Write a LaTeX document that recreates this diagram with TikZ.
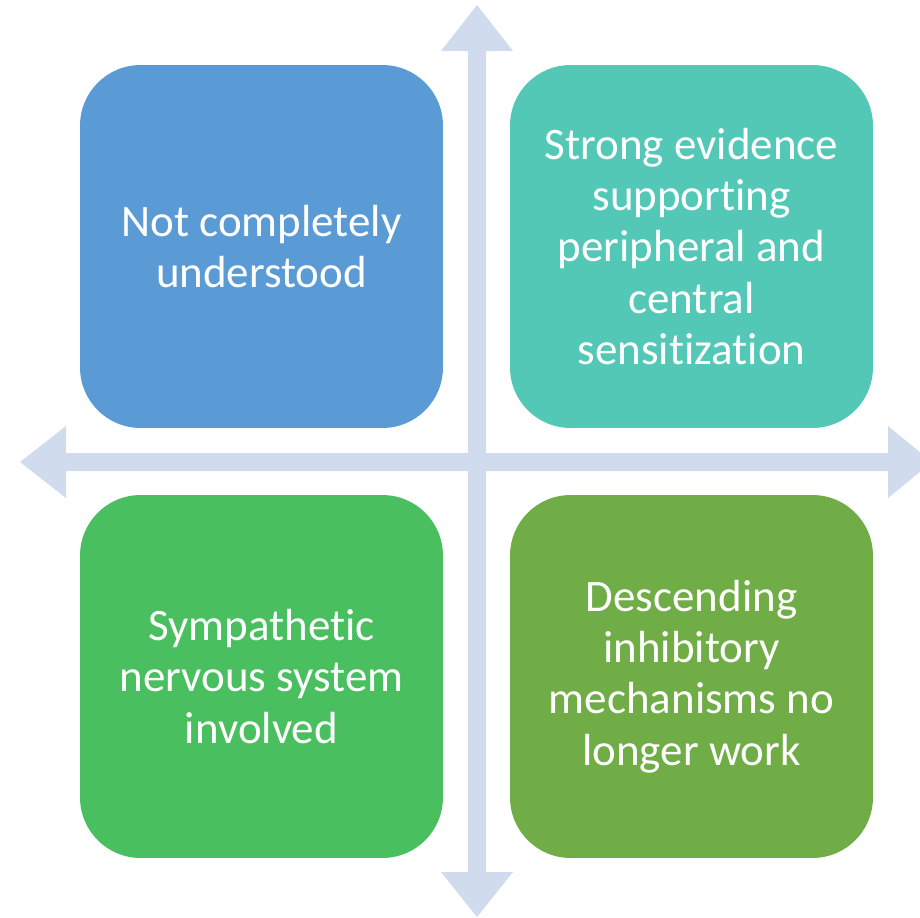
\documentclass[tikz,border=0pt]{standalone}
\usepackage{fontspec}
\setmainfont{Carlito}[Ligatures={NoCommon}]
\usepackage{xcolor}
\usepackage{tikz}
\definecolor{axiscolor}{HTML}{D0DCEE}
\definecolor{quadblue}{HTML}{5B9BD5}
\definecolor{quadteal}{HTML}{53C8B6}
\definecolor{quadgreen}{HTML}{4ABF60}
\definecolor{quadolive}{HTML}{70AD47}

\begin{document}
\begin{tikzpicture}[
    x=0.02cm, y=-0.02cm,
    quad/.style={rectangle, rounded corners=1.21cm,
                 minimum width=7.26cm, minimum height=7.26cm,
                 inner sep=0pt, text=white, align=center,
                 font=\fontsize{25.6}{29.2}\selectfont}
]
\useasboundingbox (0,0) rectangle (920,917);
\clip (0,0) rectangle (920,917);

% axes: two double-headed block arrows
\fill[axiscolor] (477,5) -- (513,51) -- (486,51) -- (486,872) -- (513,872)
    -- (477,917) -- (441,872) -- (468,872) -- (468,51) -- (441,51) -- cycle;
\fill[axiscolor] (20,462) -- (66,426) -- (66,453) -- (888,453) -- (888,426)
    -- (932,462) -- (888,498) -- (888,471) -- (66,471) -- (66,498) -- cycle;

% quadrants
\node[quad, fill=quadblue]  (notknown)    at (261.5,246.5) {Not completely\\understood};
\node[quad, fill=quadteal]  (sensitize)   at (691.5,246.5) {Strong evidence\\supporting\\peripheral and\\central\\sensitization};
\node[quad, fill=quadgreen] (sympathetic) at (261.5,676.5) {Sympathetic\\nervous system\\involved};
\node[quad, fill=quadolive] (descending)  at (691.5,676.5) {Descending\\inhibitory\\mechanisms no\\longer work};
\end{tikzpicture}
\end{document}
